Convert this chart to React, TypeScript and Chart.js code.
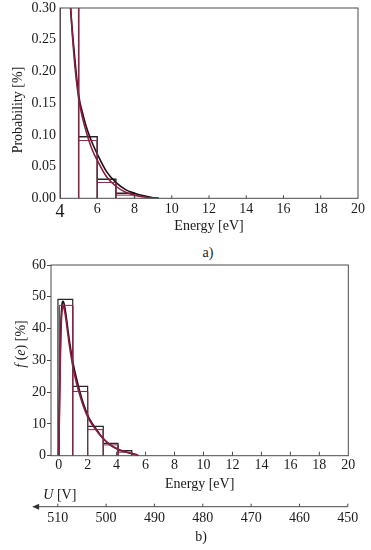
import React, { useEffect, useRef } from "react";
import { Chart, registerables } from "chart.js";
Chart.register(...registerables);

const SERIF = "'Liberation Serif', 'Times New Roman', serif";
const TEXT = "#1a1a1a";
const FRAME = "#4a4a4a";
const BLACK_LINE = "#1c1216";
const RED_LINE = "#8c1d3f";
const BLACK_BAR = "#262626";
const RED_BAR = "#7d2a48";

// ---------- Panel a ----------
const aXTicks = [4, 6, 8, 10, 12, 14, 16, 18, 20];
const aYTicks = [0, 0.05, 0.1, 0.15, 0.2, 0.25, 0.3];
const aBinEdges = [4, 5, 6, 7, 8];
const aBlackHist = [0.36, 0.097, 0.03, 0.008];
const aRedHist = [0.35, 0.091, 0.025, 0.005];
const aCurveEnergy = [4.5, 4.57, 4.75, 5, 5.25, 5.5, 5.75, 6, 6.5, 7, 7.5, 8, 8.5, 9, 9.3];
const aBlackCurve = [0.34, 0.3, 0.235, 0.163, 0.13, 0.105, 0.086, 0.07, 0.042, 0.025, 0.014, 0.008, 0.004, 0.001, 0];
const aRedCurve = [0.34, 0.3, 0.225, 0.158, 0.122, 0.096, 0.075, 0.06, 0.034, 0.019, 0.01, 0.005, 0.002, 0.0005, 0];
const aXTitle = "Energy [eV]";
const aYTitle = "Probability [%]";

// ---------- Panel b ----------
const bXTicks = [0, 2, 4, 6, 8, 10, 12, 14, 16, 18, 20];
const bYTicks = [0, 10, 20, 30, 40, 50, 60];
const bUTicks = [510, 500, 490, 480, 470, 460, 450];
const bBlackEdges = [-0.05, 0.97, 2.0, 3.08, 4.1, 5.05];
const bBlackHist = [49.2, 21.8, 9.2, 3.9, 1.6];
const bRedEdges = [0.05, 0.97, 2.0, 3.08, 4.1, 5.05, 5.4];
const bRedHist = [47.3, 20.2, 8.2, 3.4, 1.1, 0.5];
const bCurveEnergy = [0, 0.05, 0.1, 0.15, 0.2, 0.25, 0.3, 0.35, 0.4, 0.5, 0.6, 0.7, 0.85, 1.0, 1.25, 1.5, 1.75, 2.0, 2.25, 2.5, 3.0, 3.5, 4.0, 4.5, 5.0, 5.3, 5.5];
const bBlackCurve = [0, 16, 31, 41, 46, 48.2, 48.6, 48.2, 47.2, 44.5, 41, 37.5, 33, 29, 24, 19.5, 15.8, 12.8, 10.6, 9.0, 5.8, 3.6, 2.2, 1.3, 0.7, 0.3, 0];
const bRedCurve = [0, 12, 27, 38, 43.5, 46.3, 47.2, 46.8, 45.8, 43, 39.5, 36, 31.5, 27.5, 22.5, 18.5, 15, 12.2, 10.2, 8.6, 5.7, 3.6, 2.3, 1.4, 0.8, 0.4, 0];
const bXTitle = "Energy [eV]";
const bYTitleParts = [
  { text: "f", italic: true },
  { text: " (", italic: false },
  { text: "e", italic: true },
  { text: ") [%]", italic: false },
];
const bUTitleParts = [
  { text: "U", italic: true },
  { text: " [V]", italic: false },
];
const bUArrowEnd = 515.3; // U value reached by the arrow tip
const bUTitleStart = 513; // U value where the axis name starts

function outline(edges: number[], heights: number[]) {
  const pts: { x: number; y: number }[] = [];
  for (let i = 0; i < heights.length; i++) {
    pts.push({ x: edges[i], y: 0 }, { x: edges[i], y: heights[i] }, { x: edges[i + 1], y: heights[i] }, { x: edges[i + 1], y: 0 });
  }
  return pts;
}
function curve(xs: number[], ys: number[]) {
  return xs.map((x, i) => ({ x, y: ys[i] }));
}

function histDs(data: any[], color: string, w = 1) {
  return { data, borderColor: color, borderWidth: w, pointRadius: 0, tension: 0, fill: false, clip: 0 };
}
function curveDs(data: any[], color: string) {
  return { data, borderColor: color, borderWidth: 1.6, pointRadius: 0, cubicInterpolationMode: "monotone", fill: false, clip: 0 };
}

function makeFrame(tickLen: number) {
  return {
    id: "frame",
    afterDatasetsDraw(chart: any) {
      const { ctx, chartArea: a } = chart;
      const x = chart.scales.x;
      ctx.save();
      ctx.strokeStyle = FRAME;
      ctx.lineWidth = 1;
      ctx.strokeRect(a.left, a.top, a.right - a.left, a.bottom - a.top);
      ctx.beginPath();
      x.ticks.forEach((t: any) => {
        const px = x.getPixelForValue(t.value);
        if (px > a.left + 1 && px < a.right - 1) {
          ctx.moveTo(px, a.bottom);
          ctx.lineTo(px, a.bottom - tickLen);
        }
      });
      ctx.stroke();
      ctx.restore();
    },
  };
}

function drawRich(ctx: any, parts: { text: string; italic: boolean }[], size: number) {
  const fonts = parts.map((p) => `${p.italic ? "italic " : ""}${size}px ${SERIF}`);
  const widths = parts.map((p, i) => {
    ctx.font = fonts[i];
    return ctx.measureText(p.text).width;
  });
  return { fonts, widths, total: widths.reduce((s, w) => s + w, 0) };
}

function makeYTitle(id: string, parts: { text: string; italic: boolean }[], cx: number, cy: number) {
  return {
    id,
    afterDraw(chart: any) {
      const ctx = chart.ctx;
      ctx.save();
      ctx.translate(cx, cy);
      ctx.rotate(-Math.PI / 2);
      const m = drawRich(ctx, parts, 14);
      let x = -m.total / 2;
      ctx.fillStyle = TEXT;
      ctx.textBaseline = "middle";
      ctx.textAlign = "left";
      parts.forEach((p, i) => {
        ctx.font = m.fonts[i];
        ctx.fillText(p.text, x, 0);
        x += m.widths[i];
      });
      ctx.restore();
    },
  };
}

const uAxisPlugin = {
  id: "uAxis",
  afterDraw(chart: any) {
    const u = chart.scales.u;
    const ctx = chart.ctx;
    const y = u.top + 14;
    const xTip = u.getPixelForValue(bUArrowEnd);
    const xEnd = u.getPixelForValue(450);
    ctx.save();
    ctx.strokeStyle = FRAME;
    ctx.fillStyle = "#333";
    ctx.lineWidth = 1;
    ctx.beginPath();
    ctx.moveTo(xTip + 4, y);
    ctx.lineTo(xEnd, y);
    u.ticks.forEach((t: any) => {
      const px = u.getPixelForValue(t.value);
      ctx.moveTo(px, y);
      ctx.lineTo(px, y - 3);
    });
    ctx.stroke();
    ctx.beginPath();
    ctx.moveTo(xTip, y);
    ctx.lineTo(xTip + 7, y - 3);
    ctx.lineTo(xTip + 7, y + 3);
    ctx.closePath();
    ctx.fill();
    // axis name
    const m = drawRich(ctx, bUTitleParts, 14);
    let x = u.getPixelForValue(bUTitleStart);
    ctx.fillStyle = TEXT;
    ctx.textBaseline = "middle";
    ctx.textAlign = "left";
    bUTitleParts.forEach((p, i) => {
      ctx.font = m.fonts[i];
      ctx.fillText(p.text, x, u.top + 2.5);
      x += m.widths[i];
    });
    ctx.restore();
  },
};

function zeroPad(s: any) {
  s.paddingTop = 0;
  s.paddingBottom = 0;
  s.paddingLeft = 0;
  s.paddingRight = 0;
}

const font14 = { family: SERIF, size: 14 };

export default function App() {
  const refA = useRef<HTMLCanvasElement>(null);
  const refB = useRef<HTMLCanvasElement>(null);

  useEffect(() => {
    Chart.defaults.color = TEXT;
    Chart.defaults.font.family = SERIF;

    const chartA = new Chart(refA.current as HTMLCanvasElement, {
      type: "line",
      data: {
        datasets: [
          histDs(outline(aBinEdges, aRedHist), RED_BAR),
          curveDs(curve(aCurveEnergy, aRedCurve), RED_LINE),
          curveDs(curve(aCurveEnergy, aBlackCurve), BLACK_LINE),
          histDs(outline(aBinEdges, aBlackHist), BLACK_BAR, 1.4),
        ] as any,
      },
      options: {
        animation: false,
        responsive: false,
        maintainAspectRatio: false,
        layout: { padding: { left: 0, right: 13, top: 8, bottom: 0 } },
        plugins: { legend: { display: false }, tooltip: { enabled: false }, title: { display: false } },
        scales: {
          x: {
            type: "linear",
            min: 4,
            max: 20,
            afterBuildTicks: (s: any) => {
              s.ticks = aXTicks.map((v) => ({ value: v }));
            },
            afterFit: (s: any) => {
              s.height = 41.7;
              zeroPad(s);
            },
            grid: { display: false, drawTicks: false },
            border: { display: false },
            ticks: {
              padding: 3,
              maxRotation: 0,
              autoSkip: false,
              font: (c: any) => ({ family: SERIF, size: c.tick && c.tick.value === 4 ? 18 : 14 }),
            },
            title: { display: true, text: aXTitle, font: font14, padding: { top: 0, bottom: 5.6 } },
          },
          y: {
            type: "linear",
            min: 0,
            max: 0.3,
            afterBuildTicks: (s: any) => {
              s.ticks = aYTicks.map((v) => ({ value: v }));
            },
            afterFit: (s: any) => {
              s.width = 60;
              zeroPad(s);
            },
            grid: { display: false, drawTicks: false },
            border: { display: false },
            ticks: { padding: 4, font: font14, callback: (v: any) => Number(v).toFixed(2) },
          },
        },
      } as any,
      plugins: [makeFrame(3), makeYTitle("yTitleA", [{ text: aYTitle, italic: false }], 18, 110)],
    });

    const chartB = new Chart(refB.current as HTMLCanvasElement, {
      type: "line",
      data: {
        datasets: [
          histDs(outline(bRedEdges, bRedHist), RED_BAR),
          curveDs(curve(bCurveEnergy, bRedCurve), RED_LINE),
          histDs(outline(bBlackEdges, bBlackHist), BLACK_BAR, 1.2),
          curveDs(curve(bCurveEnergy, bBlackCurve), BLACK_LINE),
        ] as any,
      },
      options: {
        animation: false,
        responsive: false,
        maintainAspectRatio: false,
        layout: { padding: { left: 0, right: 22.7, top: 15, bottom: 25 } },
        plugins: { legend: { display: false }, tooltip: { enabled: false }, title: { display: false } },
        scales: {
          x: {
            type: "linear",
            position: "bottom",
            weight: 0,
            min: -0.53,
            max: 20,
            afterBuildTicks: (s: any) => {
              s.ticks = bXTicks.map((v) => ({ value: v }));
            },
            afterFit: (s: any) => {
              s.height = 37;
              zeroPad(s);
            },
            grid: { display: false, drawTicks: false },
            border: { display: false },
            ticks: { padding: 1, maxRotation: 0, autoSkip: false, font: font14 },
            title: { display: true, text: bXTitle, font: font14, padding: { top: 0, bottom: 0.3 } },
          },
          u: {
            type: "linear",
            position: "bottom",
            weight: 1,
            reverse: true,
            min: 449.9,
            max: 511.4,
            afterBuildTicks: (s: any) => {
              s.ticks = bUTicks.map((v) => ({ value: v }));
            },
            afterFit: (s: any) => {
              s.height = 32.3;
              zeroPad(s);
            },
            grid: { display: false, drawTicks: false },
            border: { display: false },
            ticks: { padding: 16.9, maxRotation: 0, autoSkip: false, font: font14 },
          },
          y: {
            type: "linear",
            min: 0,
            max: 60,
            afterBuildTicks: (s: any) => {
              s.ticks = bYTicks.map((v) => ({ value: v }));
            },
            afterFit: (s: any) => {
              s.width = 51;
              zeroPad(s);
            },
            grid: { display: true, drawOnChartArea: false, drawTicks: true, tickLength: 4, color: FRAME },
            border: { display: false },
            ticks: { padding: 1, font: font14 },
          },
        },
      } as any,
      plugins: [makeFrame(4), makeYTitle("yTitleB", bYTitleParts, 21, 94), uAxisPlugin],
    });

    return () => {
      chartA.destroy();
      chartB.destroy();
    };
  }, []);

  const label: React.CSSProperties = {
    position: "absolute",
    transform: "translate(-50%, -50%)",
    fontFamily: SERIF,
    fontSize: 14,
    lineHeight: 1,
    color: TEXT,
    whiteSpace: "nowrap",
  };

  return (
    <div style={{ position: "fixed", left: 0, top: 0, width: 371, height: 550, background: "#fff", overflow: "hidden" }}>
      <canvas ref={refA} width={371} height={240} style={{ position: "absolute", left: 0, top: 0, width: 371, height: 240 }} />
      <div style={{ ...label, left: 208, top: 253 }}>a)</div>
      <canvas ref={refB} width={371} height={300} style={{ position: "absolute", left: 0, top: 250, width: 371, height: 300 }} />
      <div style={{ ...label, left: 201, top: 537 }}>b)</div>
    </div>
  );
}
